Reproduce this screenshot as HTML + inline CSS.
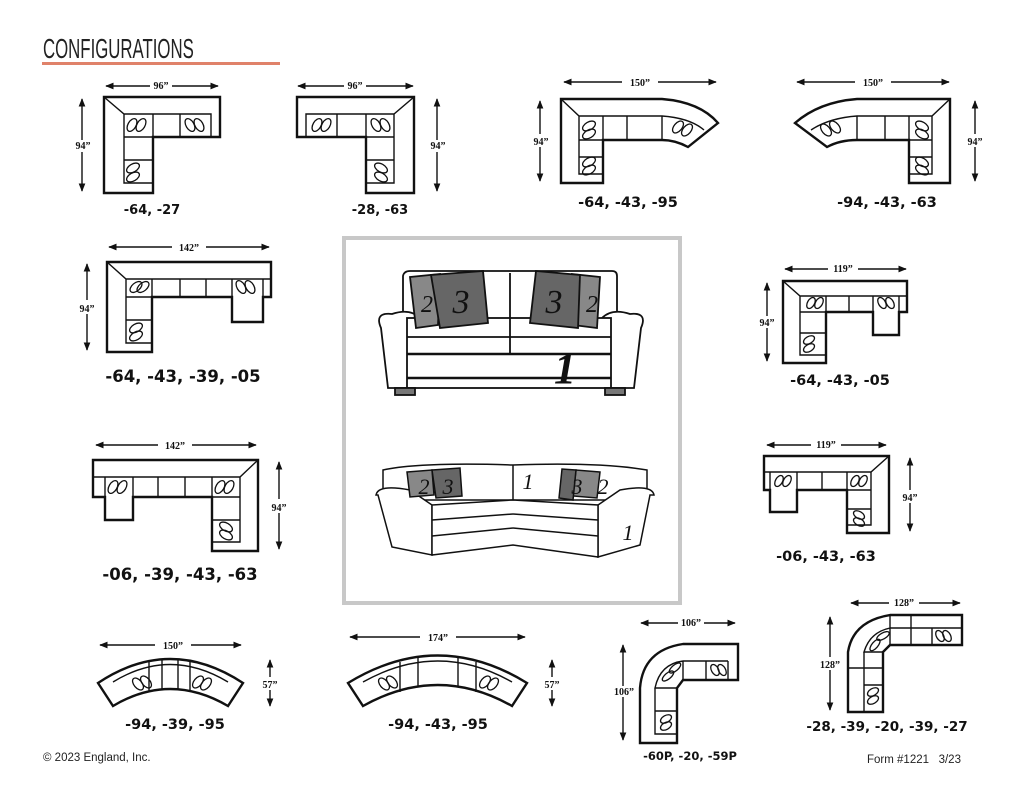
<!DOCTYPE html>
<html><head><meta charset="utf-8"><style>
html,body{margin:0;padding:0;background:#fff;}
svg{display:block}
.l{font-family:"DejaVu Sans","Liberation Sans",sans-serif;font-weight:bold;fill:#111;text-anchor:middle}
.d{font-family:"Liberation Serif",serif;font-weight:bold;font-size:10px;fill:#111;text-anchor:middle}
.s{fill:none;stroke:#111;stroke-width:2.4}
.t{fill:none;stroke:#111;stroke-width:1.4}
.o{fill:none;stroke:#111;stroke-width:1.3}
</style></head><body>
<svg width="1024" height="796" viewBox="0 0 1024 796" xmlns="http://www.w3.org/2000/svg">
<defs>
<marker id="a" viewBox="0 0 10 10" refX="9" refY="5" markerWidth="6" markerHeight="6" orient="auto-start-reverse"><path d="M0,1 L10,5 L0,9z" fill="#111"/></marker>
</defs>
<text x="43" y="58" font-family="Liberation Sans,sans-serif" font-size="28" fill="#222" transform="translate(43 0) scale(0.6 1) translate(-43 0)">CONFIGURATIONS</text>
<rect x="42" y="62" width="238" height="3" fill="#e0826a"/>

<!-- 1 -->
<g>
<line x1="106" y1="86" x2="218" y2="86" class="t" marker-start="url(#a)" marker-end="url(#a)"/><rect x="150" y="80" width="22" height="11" fill="#fff"/><text x="161" y="89" class="d">96”</text>
<line x1="82" y1="99" x2="82" y2="191" class="t" marker-start="url(#a)" marker-end="url(#a)"/><rect x="72" y="140" width="22" height="12" fill="#fff"/><text x="83" y="149" class="d">94”</text>
<path d="M104,97 H220 V137 H153 V193 H104 Z" class="s"/>
<path d="M104,97 L124,114 H211 V137 M124,114 V183 H153 M124,137 H153 M124,160 H153 M153,114 V137 M180,114 V137" class="t"/>
<ellipse cx="132" cy="125" rx="4" ry="7" class="o" transform="rotate(30 132 125)"/><ellipse cx="141" cy="125" rx="4" ry="7" class="o" transform="rotate(30 141 125)"/>
<ellipse cx="190" cy="125" rx="4" ry="7" class="o" transform="rotate(-30 190 125)"/><ellipse cx="199" cy="125" rx="4" ry="7" class="o" transform="rotate(-30 199 125)"/>
<ellipse cx="133" cy="168" rx="7" ry="4" class="o" transform="rotate(-30 133 168)"/><ellipse cx="133" cy="177" rx="7" ry="4" class="o" transform="rotate(-30 133 177)"/>
<text x="152" y="214" class="l" font-size="13">-64, -27</text>
</g>
<!-- 2 -->
<g>
<line x1="298" y1="86" x2="413" y2="86" class="t" marker-start="url(#a)" marker-end="url(#a)"/><rect x="344" y="80" width="22" height="11" fill="#fff"/><text x="355" y="89" class="d">96”</text>
<line x1="437" y1="99" x2="437" y2="191" class="t" marker-start="url(#a)" marker-end="url(#a)"/><rect x="427" y="140" width="22" height="12" fill="#fff"/><text x="438" y="149" class="d">94”</text>
<path d="M297,97 H414 V193 H366 V137 H297 Z" class="s"/>
<path d="M414,97 L394,114 H306 V137 M394,114 V183 H366 M366,137 H394 M366,160 H394 M366,114 V137 M337,114 V137" class="t"/>
<ellipse cx="317" cy="125" rx="4" ry="7" class="o" transform="rotate(30 317 125)"/><ellipse cx="326" cy="125" rx="4" ry="7" class="o" transform="rotate(30 326 125)"/>
<ellipse cx="376" cy="125" rx="4" ry="7" class="o" transform="rotate(-30 376 125)"/><ellipse cx="385" cy="125" rx="4" ry="7" class="o" transform="rotate(-30 385 125)"/>
<ellipse cx="381" cy="168" rx="7" ry="4" class="o" transform="rotate(30 381 168)"/><ellipse cx="381" cy="177" rx="7" ry="4" class="o" transform="rotate(30 381 177)"/>
<text x="380" y="214" class="l" font-size="13">-28, -63</text>
</g>
<!-- 3 -->
<g>
<line x1="564" y1="82" x2="716" y2="82" class="t" marker-start="url(#a)" marker-end="url(#a)"/><rect x="622" y="75" width="36" height="12" fill="#fff"/><text x="640" y="86" class="d" font-size="12">150”</text>
<line x1="540" y1="101" x2="540" y2="181" class="t" marker-start="url(#a)" marker-end="url(#a)"/><rect x="528" y="134" width="26" height="13" fill="#fff"/><text x="541" y="145" class="d" font-size="12">94”</text>
<path d="M561,99 H662 Q700,102 718,123 L688,147 Q675,140 662,140 H603 V183 H561 Z" class="s"/>
<path d="M561,99 L579,116 H662 Q690,118 704,130 M579,116 V174 H603 M579,140 H603 M579,157 H603 M603,116 V140 M627,116 V140 M662,116 V140" class="t"/>
<ellipse cx="589" cy="126" rx="7" ry="4" class="o" transform="rotate(-30 589 126)"/><ellipse cx="589" cy="134" rx="7" ry="4" class="o" transform="rotate(-30 589 134)"/>
<ellipse cx="589" cy="162" rx="7" ry="4" class="o" transform="rotate(-30 589 162)"/><ellipse cx="589" cy="170" rx="7" ry="4" class="o" transform="rotate(-30 589 170)"/>
<ellipse cx="678" cy="127" rx="4" ry="7" class="o" transform="rotate(40 678 127)"/><ellipse cx="687" cy="130" rx="4" ry="7" class="o" transform="rotate(40 687 130)"/>
<text x="628" y="207" class="l" font-size="14.5">-64, -43, -95</text>
</g>
<!-- 4 -->
<g>
<line x1="797" y1="82" x2="949" y2="82" class="t" marker-start="url(#a)" marker-end="url(#a)"/><rect x="855" y="75" width="36" height="12" fill="#fff"/><text x="873" y="86" class="d" font-size="12">150”</text>
<line x1="975" y1="101" x2="975" y2="181" class="t" marker-start="url(#a)" marker-end="url(#a)"/><rect x="962" y="134" width="26" height="13" fill="#fff"/><text x="975" y="145" class="d" font-size="12">94”</text>
<path d="M950,99 H857 Q819,102 795,123 L827,147 Q840,140 857,140 H909 V183 H950 Z" class="s"/>
<path d="M950,99 L932,116 H857 Q829,118 811,130 M932,116 V174 H909 M909,140 H932 M909,157 H932 M909,116 V140 M885,116 V140 M857,116 V140" class="t"/>
<ellipse cx="922" cy="126" rx="7" ry="4" class="o" transform="rotate(30 922 126)"/><ellipse cx="922" cy="134" rx="7" ry="4" class="o" transform="rotate(30 922 134)"/>
<ellipse cx="922" cy="162" rx="7" ry="4" class="o" transform="rotate(30 922 162)"/><ellipse cx="922" cy="170" rx="7" ry="4" class="o" transform="rotate(30 922 170)"/>
<ellipse cx="826" cy="130" rx="4" ry="7" class="o" transform="rotate(-40 826 130)"/><ellipse cx="835" cy="127" rx="4" ry="7" class="o" transform="rotate(-40 835 127)"/>
<text x="887" y="207" class="l" font-size="14.5">-94, -43, -63</text>
</g>
<!-- 5 -->
<g>
<line x1="109" y1="247" x2="269" y2="247" class="t" marker-start="url(#a)" marker-end="url(#a)"/><rect x="172" y="240" width="34" height="12" fill="#fff"/><text x="189" y="251" class="d" font-size="12">142”</text>
<line x1="87" y1="264" x2="87" y2="350" class="t" marker-start="url(#a)" marker-end="url(#a)"/><rect x="73" y="300" width="28" height="14" fill="#fff"/><text x="87" y="312" class="d" font-size="13">94”</text>
<path d="M107,262 H271 V297 H263 V322 H232 V297 H152 V352 H107 Z" class="s"/>
<path d="M107,262 L126,279 H271 M126,279 V343 H152 M126,297 H152 M126,320 H152 M152,279 V297 M180,279 V297 M206,279 V297 M232,279 V297 M263,279 V297" class="t"/>
<ellipse cx="136" cy="287" rx="7" ry="4" class="o" transform="rotate(-40 136 287)"/><ellipse cx="143" cy="287" rx="7" ry="4" class="o" transform="rotate(-40 143 287)"/>
<ellipse cx="241" cy="287" rx="4" ry="7" class="o" transform="rotate(-30 241 287)"/><ellipse cx="250" cy="287" rx="4" ry="7" class="o" transform="rotate(-30 250 287)"/>
<ellipse cx="136" cy="328" rx="7" ry="4" class="o" transform="rotate(-30 136 328)"/><ellipse cx="136" cy="336" rx="7" ry="4" class="o" transform="rotate(-30 136 336)"/>
<text x="183" y="382" class="l" font-size="16.5">-64, -43, -39, -05</text>
</g>
<!-- 6 -->
<g>
<line x1="785" y1="269" x2="906" y2="269" class="t" marker-start="url(#a)" marker-end="url(#a)"/><rect x="828" y="263" width="30" height="11" fill="#fff"/><text x="843" y="272" class="d">119”</text>
<line x1="767" y1="283" x2="767" y2="361" class="t" marker-start="url(#a)" marker-end="url(#a)"/><rect x="754" y="316" width="26" height="12" fill="#fff"/><text x="767" y="326" class="d" font-size="11">94”</text>
<path d="M783,281 H907 V312 H899 V335 H873 V312 H826 V363 H783 Z" class="s"/>
<path d="M783,281 L800,296 H907 M800,296 V355 H826 M800,312 H826 M800,333 H826 M826,296 V312 M849,296 V312 M873,296 V312 M899,296 V312" class="t"/>
<ellipse cx="811" cy="303" rx="3.5" ry="6" class="o" transform="rotate(30 811 303)"/><ellipse cx="819" cy="303" rx="3.5" ry="6" class="o" transform="rotate(30 819 303)"/>
<ellipse cx="882" cy="303" rx="3.5" ry="6" class="o" transform="rotate(-30 882 303)"/><ellipse cx="890" cy="303" rx="3.5" ry="6" class="o" transform="rotate(-30 890 303)"/>
<ellipse cx="809" cy="340" rx="6" ry="3.5" class="o" transform="rotate(-30 809 340)"/><ellipse cx="809" cy="348" rx="6" ry="3.5" class="o" transform="rotate(-30 809 348)"/>
<text x="840" y="385" class="l" font-size="14.5">-64, -43, -05</text>
</g>
<!-- 7 -->
<g>
<line x1="96" y1="445" x2="256" y2="445" class="t" marker-start="url(#a)" marker-end="url(#a)"/><rect x="158" y="438" width="34" height="12" fill="#fff"/><text x="175" y="449" class="d" font-size="12">142”</text>
<line x1="279" y1="462" x2="279" y2="549" class="t" marker-start="url(#a)" marker-end="url(#a)"/><rect x="264" y="499" width="30" height="14" fill="#fff"/><text x="279" y="511" class="d" font-size="13">94”</text>
<path d="M93,460 H258 V551 H212 V497 H133 V520 H105 V497 H93 Z" class="s"/>
<path d="M258,460 L240,477 H93 M240,477 V542 H212 M212,497 H240 M212,520 H240 M212,477 V497 M185,477 V497 M158,477 V497 M133,477 V497 M105,477 V497" class="t"/>
<ellipse cx="113" cy="487" rx="4" ry="7" class="o" transform="rotate(30 113 487)"/><ellipse cx="122" cy="487" rx="4" ry="7" class="o" transform="rotate(30 122 487)"/>
<ellipse cx="220" cy="487" rx="4" ry="7" class="o" transform="rotate(30 220 487)"/><ellipse cx="229" cy="487" rx="4" ry="7" class="o" transform="rotate(30 229 487)"/>
<ellipse cx="226" cy="527" rx="7" ry="4" class="o" transform="rotate(30 226 527)"/><ellipse cx="226" cy="535" rx="7" ry="4" class="o" transform="rotate(30 226 535)"/>
<text x="180" y="580" class="l" font-size="16.5">-06, -39, -43, -63</text>
</g>
<!-- 8 -->
<g>
<line x1="767" y1="445" x2="886" y2="445" class="t" marker-start="url(#a)" marker-end="url(#a)"/><rect x="811" y="439" width="30" height="11" fill="#fff"/><text x="826" y="448" class="d">119”</text>
<line x1="910" y1="458" x2="910" y2="531" class="t" marker-start="url(#a)" marker-end="url(#a)"/><rect x="896" y="490" width="28" height="13" fill="#fff"/><text x="910" y="501" class="d" font-size="12">94”</text>
<path d="M764,456 H889 V533 H847 V490 H797 V512 H770 V490 H764 Z" class="s"/>
<path d="M889,456 L871,472 H764 M871,472 V525 H847 M847,490 H871 M847,509 H871 M847,472 V490 M822,472 V490 M797,472 V490 M770,472 V490" class="t"/>
<ellipse cx="779" cy="481" rx="3.5" ry="6" class="o" transform="rotate(30 779 481)"/><ellipse cx="787" cy="481" rx="3.5" ry="6" class="o" transform="rotate(30 787 481)"/>
<ellipse cx="855" cy="481" rx="3.5" ry="6" class="o" transform="rotate(30 855 481)"/><ellipse cx="863" cy="481" rx="3.5" ry="6" class="o" transform="rotate(30 863 481)"/>
<ellipse cx="859" cy="515" rx="6" ry="3.5" class="o" transform="rotate(30 859 515)"/><ellipse cx="859" cy="522" rx="6" ry="3.5" class="o" transform="rotate(30 859 522)"/>
<text x="826" y="561" class="l" font-size="14.5">-06, -43, -63</text>
</g>
<!-- 9 -->
<g>
<line x1="100" y1="645" x2="241" y2="645" class="t" marker-start="url(#a)" marker-end="url(#a)"/><rect x="155" y="638" width="36" height="12" fill="#fff"/><text x="173" y="649" class="d" font-size="12">150”</text>
<line x1="270" y1="660" x2="270" y2="706" class="t" marker-start="url(#a)" marker-end="url(#a)"/><rect x="256" y="677" width="28" height="13" fill="#fff"/><text x="270" y="688" class="d" font-size="12">57”</text>
<path d="M98,683 Q170,635 243,683 L228,706 Q170,672 113,706 Z" class="s"/>
<path d="M113,682 Q170,647 228,682 M149,662 V692 M190,662 V692 M162,660 V690 M178,660 V690" class="t"/>
<ellipse cx="138" cy="684" rx="4" ry="7" class="o" transform="rotate(-40 138 684)"/><ellipse cx="146" cy="682" rx="4" ry="7" class="o" transform="rotate(-40 146 682)"/>
<ellipse cx="198" cy="682" rx="4" ry="7" class="o" transform="rotate(40 198 682)"/><ellipse cx="206" cy="684" rx="4" ry="7" class="o" transform="rotate(40 206 684)"/>
<text x="175" y="729" class="l" font-size="14.5">-94, -39, -95</text>
</g>
<!-- 10 -->
<g>
<line x1="350" y1="637" x2="525" y2="637" class="t" marker-start="url(#a)" marker-end="url(#a)"/><rect x="420" y="630" width="36" height="12" fill="#fff"/><text x="438" y="641" class="d" font-size="12">174”</text>
<line x1="552" y1="660" x2="552" y2="706" class="t" marker-start="url(#a)" marker-end="url(#a)"/><rect x="538" y="677" width="28" height="13" fill="#fff"/><text x="552" y="688" class="d" font-size="12">57”</text>
<path d="M348,683 Q438,628 527,683 L512,706 Q438,664 363,706 Z" class="s"/>
<path d="M363,682 Q438,640 512,682 M400,662 V692 M476,662 V692 M418,656 V686 M458,656 V686" class="t"/>
<ellipse cx="384" cy="684" rx="4" ry="7" class="o" transform="rotate(-40 384 684)"/><ellipse cx="392" cy="682" rx="4" ry="7" class="o" transform="rotate(-40 392 682)"/>
<ellipse cx="485" cy="682" rx="4" ry="7" class="o" transform="rotate(40 485 682)"/><ellipse cx="493" cy="684" rx="4" ry="7" class="o" transform="rotate(40 493 684)"/>
<text x="438" y="729" class="l" font-size="14.5">-94, -43, -95</text>
</g>
<!-- 11 -->
<g>
<line x1="641" y1="623" x2="735" y2="623" class="t" marker-start="url(#a)" marker-end="url(#a)"/><rect x="678" y="618" width="26" height="10" fill="#fff"/><text x="691" y="626" class="d" font-size="9">106”</text>
<line x1="623" y1="645" x2="623" y2="740" class="t" marker-start="url(#a)" marker-end="url(#a)"/><rect x="611" y="686" width="26" height="11" fill="#fff"/><text x="624" y="695" class="d" font-size="9">106”</text>
<path d="M683,644 H738 V680 H683 L677,688 V743 H640 V688 Q643,650 683,644 Z" class="s"/>
<path d="M683,661 Q660,664 655,688 H677 M655,688 V734 H677 M655,711 H677 M683,661 V680 M706,661 V680 M728,661 V680 M683,661 H728" class="t"/>
<ellipse cx="715" cy="670" rx="3.5" ry="6" class="o" transform="rotate(-30 715 670)"/><ellipse cx="722" cy="670" rx="3.5" ry="6" class="o" transform="rotate(-30 722 670)"/>
<ellipse cx="666" cy="719" rx="6" ry="3.5" class="o" transform="rotate(-30 666 719)"/><ellipse cx="666" cy="726" rx="6" ry="3.5" class="o" transform="rotate(-30 666 726)"/>
<ellipse cx="668" cy="676" rx="3" ry="7" class="o" transform="rotate(50 668 676)"/><ellipse cx="675" cy="668" rx="3" ry="7" class="o" transform="rotate(50 675 668)"/>
<text x="690" y="760" class="l" font-size="11.5">-60P, -20, -59P</text>
</g>
<!-- 12 -->
<g>
<line x1="851" y1="603" x2="960" y2="603" class="t" marker-start="url(#a)" marker-end="url(#a)"/><rect x="889" y="597" width="30" height="11" fill="#fff"/><text x="904" y="606" class="d" font-size="10">128”</text>
<line x1="830" y1="617" x2="830" y2="710" class="t" marker-start="url(#a)" marker-end="url(#a)"/><rect x="814" y="657" width="32" height="13" fill="#fff"/><text x="830" y="668" class="d" font-size="11">128”</text>
<path d="M890,615 H962 V645 H890 L883,652 V712 H848 V652 Q853,621 890,615 Z" class="s"/>
<path d="M890,628 Q870,632 864,652 H883 M864,652 V712 M848,668 H883 M864,685 H883 M890,615 V645 M911,615 V645 M890,628 H962 M932,628 V645" class="t"/>
<ellipse cx="940" cy="636" rx="3.5" ry="6" class="o" transform="rotate(-30 940 636)"/><ellipse cx="947" cy="636" rx="3.5" ry="6" class="o" transform="rotate(-30 947 636)"/>
<ellipse cx="873" cy="692" rx="6" ry="3.5" class="o" transform="rotate(-30 873 692)"/><ellipse cx="873" cy="700" rx="6" ry="3.5" class="o" transform="rotate(-30 873 700)"/>
<ellipse cx="875" cy="645" rx="3" ry="7" class="o" transform="rotate(40 875 645)"/><ellipse cx="883" cy="636" rx="3" ry="7" class="o" transform="rotate(60 883 636)"/>
<text x="887" y="731" class="l" font-size="13.5">-28, -39, -20, -39, -27</text>
</g>

<!-- center box -->
<rect x="344" y="238" width="336" height="365" fill="#fff" stroke="#c8c8c8" stroke-width="4"/>
<!-- sofa top -->
<g stroke="#111" stroke-width="1.8" fill="#fff">
<path d="M403,320 V276 Q404,271 410,271 H612 Q617,271 617,276 V320 Z"/>
<path d="M381,328 Q374,312 392,314 Q410,308 420,318 L415,388 H388 Z"/>
<path d="M641,328 Q648,312 630,314 Q612,308 602,318 L607,388 H634 Z"/>
<rect x="407" y="318" width="204" height="70"/>
<line x1="510" y1="273" x2="510" y2="354"/>
<line x1="407" y1="337" x2="611" y2="337"/><line x1="407" y1="354" x2="611" y2="354" stroke-width="2.5"/>
<line x1="407" y1="378" x2="611" y2="378" stroke-width="2.5"/>
<rect x="395" y="388" width="20" height="7" fill="#777"/><rect x="605" y="388" width="20" height="7" fill="#777"/>
<path d="M410,277 L440,274 L438,325 L416,328 Z" fill="#888"/>
<path d="M431,275 L483,271 L488,323 L440,328 Z" fill="#666"/>
<path d="M600,277 L572,274 L573,325 L597,328 Z" fill="#888"/>
<path d="M580,275 L536,271 L530,323 L578,328 Z" fill="#666"/>
</g>
<g font-family="Liberation Serif,serif" font-style="italic" fill="#111" text-anchor="middle">
<text x="427" y="312" font-size="24">2</text><text x="461" y="313" font-size="34">3</text>
<text x="554" y="313" font-size="34">3</text><text x="592" y="312" font-size="24">2</text>
<text x="565" y="383" font-size="44" font-weight="bold">1</text>
</g>
<!-- sectional -->
<g stroke="#111" stroke-width="1.5" fill="#fff">
<path d="M383,500 V470 Q420,462 513,465 Q600,462 647,470 V500 Z"/>
<line x1="513" y1="465" x2="513" y2="540"/>
<path d="M376,495 Q378,484 410,490 L432,505 V555 L392,547 L378,495 Z"/>
<path d="M654,495 Q652,484 620,490 L598,505 V557 L640,545 L650,495 Z"/>
<path d="M432,505 L513,500 L598,505 V557 L513,545 L432,555 Z"/>
<line x1="432" y1="520" x2="513" y2="514"/><line x1="513" y1="514" x2="598" y2="520"/>
<line x1="432" y1="536" x2="513" y2="528"/><line x1="513" y1="528" x2="598" y2="536"/>
<path d="M407,472 L432,470 L434,495 L410,497 Z" fill="#888"/>
<path d="M432,470 L460,468 L462,496 L436,498 Z" fill="#666"/>
<path d="M600,472 L576,470 L573,496 L597,498 Z" fill="#888"/>
<path d="M576,470 L562,469 L559,498 L573,500 Z" fill="#666"/>
</g>
<g font-family="Liberation Serif,serif" font-style="italic" fill="#111" text-anchor="middle" font-size="22">
<text x="424" y="494">2</text><text x="448" y="494">3</text>
<text x="528" y="489">1</text>
<text x="577" y="494">3</text><text x="603" y="494">2</text>
<text x="628" y="540">1</text>
</g>

<text x="43" y="761" font-family="Liberation Sans,sans-serif" font-size="11.5" fill="#222">© 2023 England, Inc.</text>
<text x="867" y="763" font-family="Liberation Sans,sans-serif" font-size="11.5" fill="#222" xml:space="preserve">Form #1221   3/23</text>
</svg>
</body></html>
